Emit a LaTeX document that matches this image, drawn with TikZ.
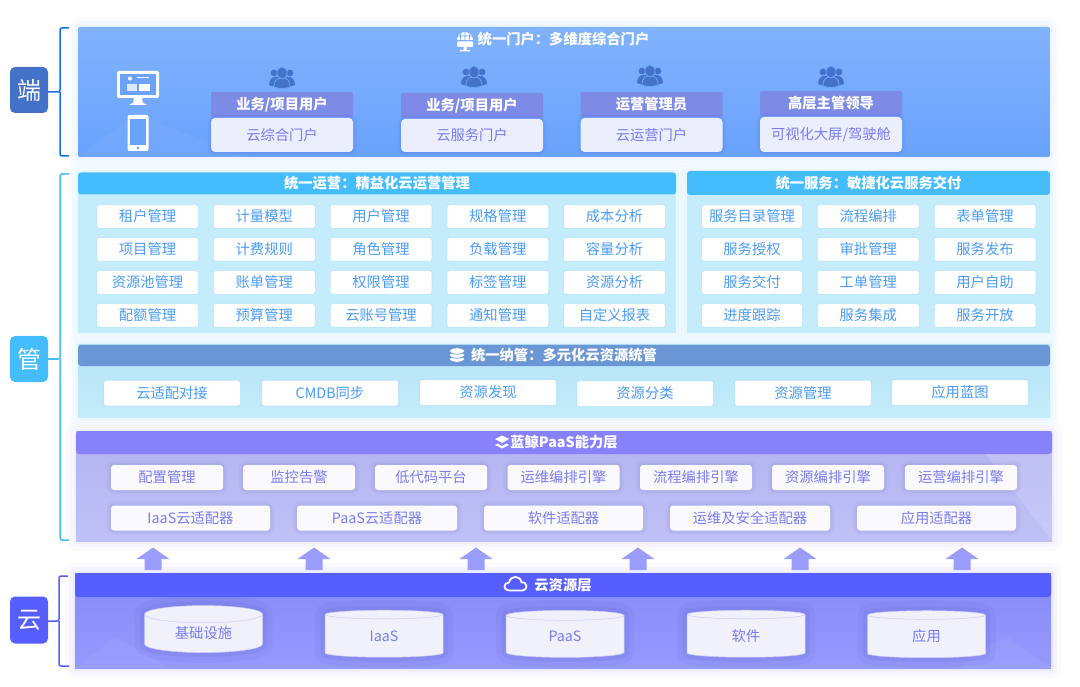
\documentclass[tikz,border=0pt]{standalone}
\usepackage{fontspec}
\setmainfont{Noto Sans CJK SC}
\usetikzlibrary{positioning, shapes.geometric, calc}
\definecolor{topA}{HTML}{80B2FD}
\definecolor{topB}{HTML}{6AA2FC}
\definecolor{opsHead}{HTML}{45BDFC}
\definecolor{opsA}{HTML}{C4ECFB}
\definecolor{opsB}{HTML}{CFF0FC}
\definecolor{cmpHead}{HTML}{6A96D6}
\definecolor{cmpA}{HTML}{B4E3F7}
\definecolor{cmpB}{HTML}{C4ECFA}
\definecolor{paasHead}{HTML}{8782FC}
\definecolor{paasA}{HTML}{B3B3F2}
\definecolor{paasB}{HTML}{C0C1F6}
\definecolor{cloudHead}{HTML}{575EFF}
\definecolor{cloudA}{HTML}{8689F6}
\definecolor{cloudB}{HTML}{969AFE}
\definecolor{userHead}{HTML}{7D8AE6}
\definecolor{userBox}{HTML}{EBEEFC}
\definecolor{iconBlue}{HTML}{4472C9}
\definecolor{braceBlue}{HTML}{1570F0}
\definecolor{txtViolet}{HTML}{7A7CF2}
\definecolor{txtBlue}{HTML}{4A9CF5}
\definecolor{arrowFill}{HTML}{9A9DFE}
\definecolor{cylFill}{HTML}{F0F1FA}
\tikzset{
base/.style={rectangle, inner sep=0pt, outer sep=0pt, align=center, font=\fontsize{14.3}{16}\selectfont},
panel/.style={base, anchor=north west, preaction={draw=#1, draw opacity=.03, line width=20pt, line join=round}, preaction={draw=#1, draw opacity=.04, line width=12pt, line join=round}, preaction={draw=#1, draw opacity=.05, line width=5pt, line join=round}},
head/.style={base, anchor=north west, rounded corners=3pt, text=white, font=\fontsize{14.3}{16}\selectfont\bfseries},
userhead/.style={base, fill=userHead, minimum width=142pt, minimum height=25pt, rounded corners=2pt, text=white, font=\fontsize{14.3}{16}\selectfont\bfseries},
userbox/.style={base, fill=userBox, minimum width=142pt, minimum height=34pt, rounded corners=4pt, text=txtViolet, preaction={draw=blue!60!topB, line width=7pt, line join=round, draw opacity=.06}, preaction={draw=blue!60!topB, line width=3pt, line join=round, draw opacity=.08}},
opsbox/.style={base, fill=white, minimum width=101pt, minimum height=23pt, rounded corners=2.5pt, text=txtBlue, preaction={draw=opsHead, line width=2pt, draw opacity=.07}},
cmpbox/.style={opsbox, minimum width=136pt, minimum height=25pt},
paasbox/.style={base, fill=white!94!paasA, minimum height=25pt, rounded corners=3pt, text=txtViolet, preaction={draw=paasHead!70!black, line width=9pt, draw opacity=.05, line join=round}, preaction={draw=paasHead!70!black, line width=4pt, draw opacity=.07, line join=round}},
cylbox/.style={base, cylinder, shape border rotate=90, aspect=.3, draw=paasA!70!white, line width=.5pt, fill=cylFill, minimum width=118pt, minimum height=47pt, text=txtViolet, preaction={draw=cloudHead!60!black, line width=20pt, draw opacity=.05, line join=round}, preaction={draw=cloudHead!60!black, line width=9pt, draw opacity=.07, line join=round}},
badge/.style={base, minimum width=38pt, minimum height=46pt, rounded corners=5pt, text=white, font=\fontsize{24}{26}\selectfont},
bracket/.style={line width=1.5pt, rounded corners=2pt},
sheen/.style={fill=white, fill opacity=#1},
people/.pic={
  \fill[iconBlue] (-13,7) .. controls (-13,1) and (-9,-1) .. (-7,-1) -- (7,-1) .. controls (9,-1) and (13,1) .. (13,7) .. controls (6,10) and (-6,10) .. (-13,7) -- cycle;
  \fill[iconBlue] (-8,-5) circle (3.4pt) (8,-5) circle (3.4pt);
  \fill[iconBlue, draw=topB, line width=.8pt] (-8,9) .. controls (-8,2) and (-5,0) .. (0,0) .. controls (5,0) and (8,2) .. (8,9) .. controls (3,11) and (-3,11) .. (-8,9) -- cycle;
  \fill[iconBlue, draw=topB, line width=.8pt] (0,-5) ellipse (5pt and 6pt);
},
monitor/.pic={
  \fill[white, rounded corners=1.5pt] (-21,-17) rectangle (21,10);
  \fill[topB] (-18,-14) rectangle (18,7);
  \fill[white] (-8,-9.5) circle (2pt);
  \fill[white] (-1,-11) rectangle (11,-9.5);
  \fill[white!75!topB] (-11,-4) rectangle (-1,3);
  \fill[white] (1,-4) rectangle (12,3);
  \fill[white] (-4,10) -- (4,10) -- (5,15) -- (9,17) -- (-9,17) -- (-5,15) -- cycle;
},
phone/.pic={
  \fill[white, rounded corners=2pt] (-10.5,-18) rectangle (10.5,18);
  \fill[topB] (-8,-13.5) rectangle (8,12);
  \fill[topB] (0,15) circle (1.5pt);
},
portal/.pic={
  \fill[white] (-8,-1) arc[start angle=180, end angle=0, radius=8pt] -- cycle;
  \draw[topB, line width=.7pt] (0,-9) -- (0,-1) (-8,-5) -- (8,-5) (-4,-8) .. controls (-5,-5) .. (-4,-1) (4,-8) .. controls (5,-5) .. (4,-1);
  \fill[white, rounded corners=1pt] (-8,0.5) rectangle (8,6);
  \fill[white] (-1.5,6) rectangle (1.5,9) (-5,9) rectangle (5,10.5);
},
discs/.pic={
  \foreach \yy in {4,0,-4} {\fill[white, draw=cmpHead, line width=.7pt] (0,\yy) ellipse (7.5pt and 3.2pt);}
},
layers/.pic={
  \fill[white] (-7,3) -- (0,6.5) -- (7,3) -- (4.5,1.5) -- (0,4) -- (-4.5,1.5) -- cycle;
  \fill[white] (0,-6.5) -- (7,-3) -- (0,1) -- (-7,-3) -- cycle;
},
cloudicon/.pic={
  \draw[white, line width=1.8pt, line join=round] (-6.5,7) .. controls (-12.5,7) and (-12.5,-1) .. (-6.5,-1) .. controls (-5,-8.5) and (5,-8.5) .. (6,-1) .. controls (12.5,-2) and (12.5,7) .. (7,7) -- cycle;
}
}
\begin{document}
\begin{tikzpicture}[x=1pt, y=-1pt, node distance=10pt and 15.75pt]
\useasboundingbox (0,0) rectangle (1080,687);
% panels
\node[panel=topB, top color=topA, bottom color=topB, minimum width=972pt, minimum height=130pt, rounded corners=2pt] (Front) at (78,27) {};
\node[panel=opsHead, fill=opsA, minimum width=598pt, minimum height=160pt] (Ops) at (78,173) {};
\node[panel=opsHead, fill=opsA, minimum width=363pt, minimum height=160pt] (Svc) at (687,173) {};
\node[panel=opsHead, top color=cmpA, bottom color=cmpB, minimum width=972pt, minimum height=72pt] (Cmp) at (78,345) {};
\node[panel=paasHead, top color=paasA, bottom color=paasB, minimum width=976pt, minimum height=110pt] (Paas) at (76,431) {};
\node[panel=cloudHead, top color=cloudA, bottom color=cloudB, minimum width=976pt, minimum height=95pt] (Cloud) at (75,573) {};
% sheen corners
\fill[sheen=.04] (Front.south west) -- (135,115) -- (250,157) -- cycle;
\fill[sheen=.14] (Paas.south east) -- (985,453) -- (1052,453) -- cycle;
\fill[sheen=.04] (Cloud.south west) -- (115,637) -- (170,668) -- cycle;
\fill[sheen=.05] (Cloud.south east) -- (1005,635) -- (960,668) -- cycle;
% headers
\node[head, fill=opsHead, minimum width=598pt, minimum height=22pt] (Ops Head) at (78,172.5) {统一运营：精益化云运营管理};
\node[head, fill=opsHead, minimum width=363pt, minimum height=24pt] (Svc Head) at (687,171) {统一服务：敏捷化云服务交付};
\node[head, fill=cmpHead, minimum width=972pt, minimum height=21pt] (Cmp Head) at (78,345) {统一纳管：多元化云资源统管};
\node[head, fill=paasHead, minimum width=976pt, minimum height=23pt] (Paas Head) at (76,431) {蓝鲸PaaS能力层};
\node[head, fill=cloudHead, minimum width=976pt, minimum height=24pt] (Cloud Head) at (75,573) {云资源层};
\node[base, text=white, font=\fontsize{14.3}{16}\selectfont\bfseries] (Front Title) at (563.5,39) {统一门户：多维度综合门户};
% badges and brackets
\node[badge, fill=iconBlue] (Duan) at (29,90) {端};
\node[badge, fill=opsHead] (Guan) at (29,359) {管};
\node[badge, fill=cloudHead, minimum height=47pt] (Yun) at (29,620) {云};
\coordinate (Duan Tip) at (69,92);
\coordinate (Guan Tip) at (69,359);
\coordinate (Yun Tip) at (69,621);
\draw[bracket, color=braceBlue] (69,28) -- (60,28) -- (60,92) -- (Duan.east |- Duan Tip) (60,92) -- (60,156) -- (Duan Tip |- 0,156);
\draw[bracket, color=opsHead] (69,174) -- (60,174) -- (60,359) -- (Guan.east |- Guan Tip) (60,359) -- (60,540) -- (Guan Tip |- 0,540);
\draw[bracket, color=cloudHead] (68,576) -- (59,576) -- (59,621) -- (Yun.east |- Yun Tip) (59,621) -- (59,666) -- (Yun Tip |- 0,666);
% user groups
\node[userhead] (User 1) at (282,104.5) {业务/项目用户};
\node[userbox, below=1pt of User 1] (Portal 1) {云综合门户};
\node[userhead] (User 2) at (472,105.5) {业务/项目用户};
\node[userbox, below=1pt of User 2, minimum height=33pt] (Portal 2) {云服务门户};
\node[userhead] (User 3) at (651.5,104.5) {运营管理员};
\node[userbox, below=1pt of User 3] (Portal 3) {云运营门户};
\node[userhead] (User 4) at (831,103.5) {高层主管领导};
\node[userbox, below=1pt of User 4, minimum height=35pt] (Portal 4) {可视化大屏/驾驶舱};
\pic at (282,78) {people};
\pic at (474,77) {people};
\pic at (650,76) {people};
\pic at (831,77) {people};
\pic at (138,88) {monitor};
\pic at (138,133) {phone};
\pic at (465,41) {portal};
\pic at (457,355) {discs};
\pic at (502,442) {layers};
\pic at (515.5,583.5) {cloudicon};
% ops rows
\node[opsbox] (Ops 1) at (147.5,216.5) {租户管理};
\node[opsbox,right=of Ops 1] (Ops 2) {计量模型};
\node[opsbox,right=of Ops 2] (Ops 3) {用户管理};
\node[opsbox,right=of Ops 3] (Ops 4) {规格管理};
\node[opsbox,right=of Ops 4] (Ops 5) {成本分析};
\node[opsbox,below=of Ops 1] (Ops 6) {项目管理};
\node[opsbox,right=of Ops 6] (Ops 7) {计费规则};
\node[opsbox,right=of Ops 7] (Ops 8) {角色管理};
\node[opsbox,right=of Ops 8] (Ops 9) {负载管理};
\node[opsbox,right=of Ops 9] (Ops 10) {容量分析};
\node[opsbox,below=of Ops 6] (Ops 11) {资源池管理};
\node[opsbox,right=of Ops 11] (Ops 12) {账单管理};
\node[opsbox,right=of Ops 12] (Ops 13) {权限管理};
\node[opsbox,right=of Ops 13] (Ops 14) {标签管理};
\node[opsbox,right=of Ops 14] (Ops 15) {资源分析};
\node[opsbox,below=of Ops 11] (Ops 16) {配额管理};
\node[opsbox,right=of Ops 16] (Ops 17) {预算管理};
\node[opsbox,right=of Ops 17] (Ops 18) {云账号管理};
\node[opsbox,right=of Ops 18] (Ops 19) {通知管理};
\node[opsbox,right=of Ops 19] (Ops 20) {自定义报表};
% service rows
\node[opsbox, minimum width=100pt] (Svc 1) at (752,216.5) {服务目录管理};
\node[opsbox,right=of Svc 1] (Svc 2) {流程编排};
\node[opsbox,right=of Svc 2] (Svc 3) {表单管理};
\node[opsbox,below=of Svc 1, minimum width=100pt] (Svc 4) {服务授权};
\node[opsbox,right=of Svc 4] (Svc 5) {审批管理};
\node[opsbox,right=of Svc 5] (Svc 6) {服务发布};
\node[opsbox,below=of Svc 4, minimum width=100pt] (Svc 7) {服务交付};
\node[opsbox,right=of Svc 7] (Svc 8) {工单管理};
\node[opsbox,right=of Svc 8] (Svc 9) {用户自助};
\node[opsbox,below=of Svc 7, minimum width=100pt] (Svc 10) {进度跟踪};
\node[opsbox,right=of Svc 10] (Svc 11) {服务集成};
\node[opsbox,right=of Svc 11] (Svc 12) {服务开放};
% managed resources
\node[cmpbox] (Cmp 1) at (172,393) {云适配对接};
\node[cmpbox] (Cmp 2) at (330,393) {CMDB同步};
\node[cmpbox] (Cmp 3) at (488,392.5) {资源发现};
\node[cmpbox] (Cmp 4) at (645,393.5) {资源分类};
\node[cmpbox] (Cmp 5) at (803,393) {资源管理};
\node[cmpbox] (Cmp 6) at (960,392.5) {应用蓝图};
% paas rows
\node[paasbox, minimum width=112pt] (Paas 1) at (167,477.5) {配置管理};
\node[paasbox, minimum width=112pt] (Paas 2) at (299,477.5) {监控告警};
\node[paasbox, minimum width=112pt] (Paas 3) at (431,477.5) {低代码平台};
\node[paasbox, minimum width=112pt] (Paas 4) at (563.5,477.5) {运维编排引擎};
\node[paasbox, minimum width=112pt] (Paas 5) at (696,477.5) {流程编排引擎};
\node[paasbox, minimum width=112pt] (Paas 6) at (828,477.5) {资源编排引擎};
\node[paasbox, minimum width=112pt] (Paas 7) at (961,477.5) {运营编排引擎};
\node[paasbox, minimum width=159pt] (Adapter 1) at (190.5,518) {IaaS云适配器};
\node[paasbox, minimum width=160pt] (Adapter 2) at (377,518) {PaaS云适配器};
\node[paasbox, minimum width=159pt] (Adapter 3) at (563.5,518) {软件适配器};
\node[paasbox, minimum width=160pt] (Adapter 4) at (750,518) {运维及安全适配器};
\node[paasbox, minimum width=159pt] (Adapter 5) at (936.5,518) {应用适配器};
% cloud resources
\node[cylbox] (Res 1) at (203.5,633.5) {基础设施};
\node[cylbox] (Res 2) at (384,636) {IaaS};
\node[cylbox] (Res 3) at (565,636.5) {PaaS};
\node[cylbox] (Res 4) at (746,636) {软件};
\node[cylbox] (Res 5) at (926.5,636.5) {应用};
% up arrows
\foreach \xx in {153,314,476,638,800,962} {
  \fill[arrowFill] (\xx-8.5,570) -- (\xx-8.5,559) -- (\xx-16.5,559) -- (\xx,547.5) -- (\xx+16.5,559) -- (\xx+8.5,559) -- (\xx+8.5,570) -- cycle;
}
\end{tikzpicture}
\end{document}
